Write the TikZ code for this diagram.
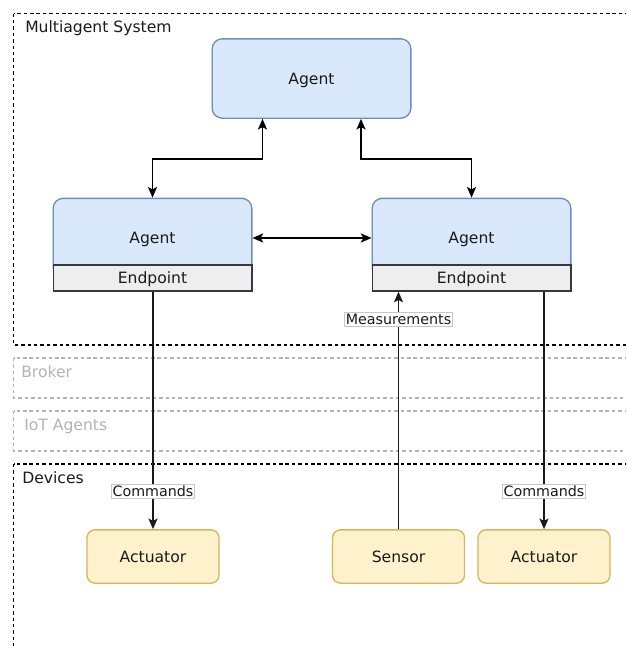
\documentclass[tikz,border=0pt]{standalone}
\usepackage{fontspec}
\setmainfont{DejaVu Sans}
\usetikzlibrary{arrows.meta,calc}
\definecolor{agentfill}{HTML}{DAE8FC}
\definecolor{agentline}{HTML}{6C8EBF}
\definecolor{devfill}{HTML}{FFF2CC}
\definecolor{devline}{HTML}{D6B656}
\definecolor{epfill}{HTML}{EEEEEE}
\definecolor{epline}{HTML}{36393D}
\definecolor{faded}{HTML}{B3B3B3}
\definecolor{tagline}{HTML}{C8C8C8}
\definecolor{ink}{HTML}{1A1A1A}

\begin{document}
\begin{tikzpicture}[x=0.75pt,y=-0.75pt,
  font=\fontsize{11.7}{14}\selectfont, text=ink,
  agent/.style={draw=agentline, fill=agentfill, rounded corners=7.5pt,
    minimum width=149pt, minimum height=59.5pt, line width=1pt, inner sep=0pt,
    text depth=0pt},
  endpoint/.style={draw=epline, fill=epfill, minimum width=149pt,
    minimum height=19.5pt, line width=1pt, inner sep=0pt, text depth=0pt},
  device/.style={draw=devline, fill=devfill, rounded corners=6pt,
    minimum width=99pt, minimum height=40pt, line width=1pt, inner sep=0pt},
  region/.style={draw=black, line width=0.9pt, dash pattern=on 2.6pt off 2.2pt},
  fadedregion/.style={draw=faded, line width=0.9pt, dash pattern=on 2.6pt off 2.2pt},
  regionlabel/.style={anchor=base west, inner sep=0pt},
  link/.style={draw=black, line width=1pt,
    {Stealth[length=8pt,width=6.8pt,inset=1.8pt]}-{Stealth[length=8pt,width=6.8pt,inset=1.8pt]}},
  flow/.style={draw=ink, line width=1pt,
    -{Stealth[length=8pt,width=6.8pt,inset=1.8pt]}},
  tag/.style={fill=white, draw=tagline, line width=0.6pt,
    font=\fontsize{10.7}{12}\selectfont, inner xsep=1pt, inner ysep=1.2pt}
]
\useasboundingbox (0,0) rectangle (626,646);
\clip (0,0) rectangle (626,646);

% layer regions (they run on past the right edge)
\draw[region] (13.5,13.5) rectangle (700,345);
\draw[fadedregion] (13.5,358) rectangle (700,398);
\draw[fadedregion] (13.5,411) rectangle (700,451);
\draw[region] (13.5,464) rectangle (700,760);

\node[regionlabel] (lblMas) at (25,32) {Multiagent System};
\node[regionlabel, text=faded] (lblBroker) at (21,377.5) {Broker};
\node[regionlabel, text=faded] (lblIot) at (24,430) {IoT Agents};
\node[regionlabel] (lblDev) at (22,483) {Devices};

% agents
\node[agent] (agT) at (311.5,78.5) {Agent};
\node[agent] (agL) at (152.5,238) {Agent};
\node[agent] (agR) at (471.5,238) {Agent};
\node[endpoint] (epL) at (152.5,278) {Endpoint};
\node[endpoint] (epR) at (471.5,278) {Endpoint};

% devices
\node[device] (actL) at (153,556.5) {Actuator};
\node[device] (sens) at (398.5,556.5) {Sensor};
\node[device] (actR) at (544,556.5) {Actuator};

% agent links
\draw[link] ($(agT.south)+(-49,0)$) -- ++(0,40) -| (agL.north);
\draw[link] ($(agT.south)+(49.5,0)$) -- ++(0,40) -| (agR.north);
\draw[link] (agL.east) -- (agR.west);

% device flows
\draw[flow] (epL.south -| actL.north) -- node[tag, pos=0.84] {Commands} (actL.north);
\draw[flow] (epR.south -| actR.north) -- node[tag, pos=0.84] {Commands} (actR.north);
\draw[flow] (sens.north) -- node[tag, pos=0.883] {Measurements} (sens.north |- epR.south);
\end{tikzpicture}
\end{document}
